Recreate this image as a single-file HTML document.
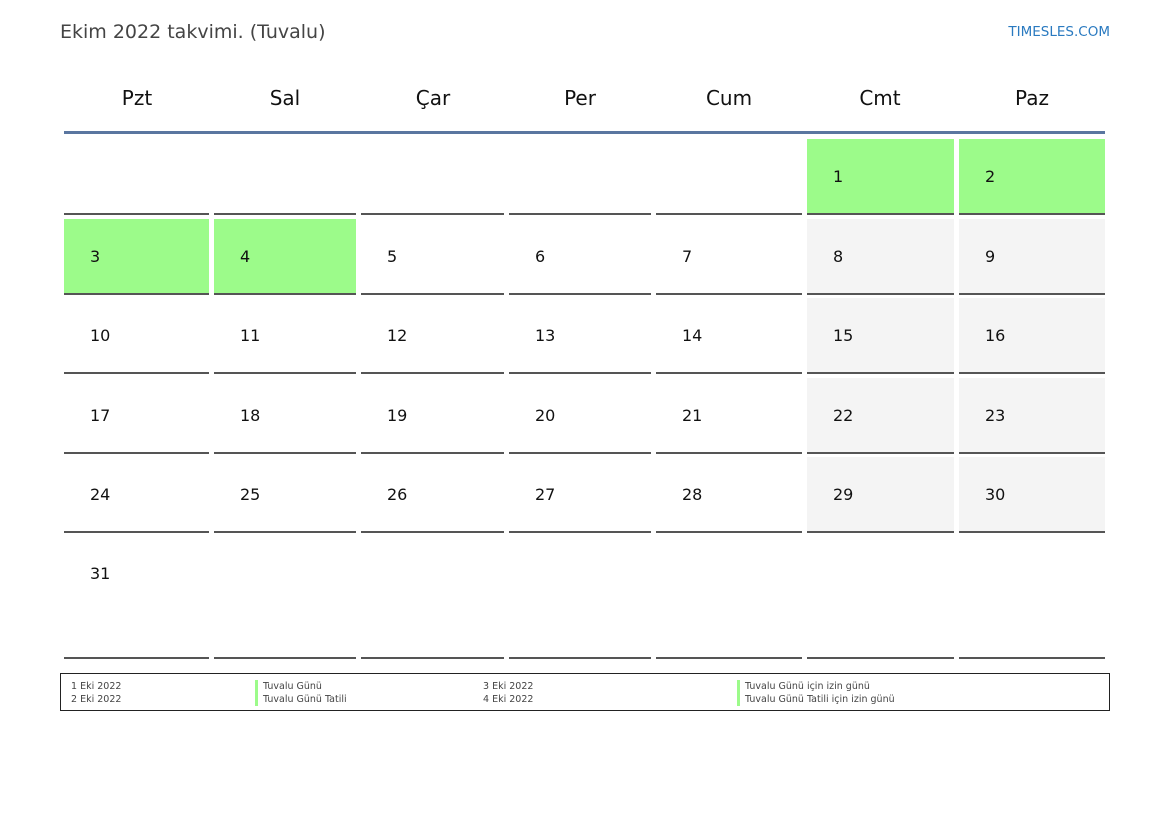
<!DOCTYPE html>
<html><head><meta charset="utf-8"><style>
body{margin:0;width:1169px;height:827px;background:#fff;position:relative;font-family:"DejaVu Sans","Liberation Sans",sans-serif;overflow:hidden}
.a{position:absolute}
.t{left:60px;top:21px;font-size:19px;color:#444}
.brand{right:59px;top:24px;font-size:13.5px;color:#2a7ac0}
.h{top:86px;font-size:20px;color:#111;text-align:center;width:146px}
.c{box-sizing:border-box;border-bottom:2px solid #555;font-size:16px;color:#111;padding-left:26px;display:flex;align-items:center}
.g{background:#9cfb8a}.w{background:#f4f4f4}
.f{font-size:9.5px;color:#444;line-height:13px}
.bar{border-left:3px solid #9cfb8a;padding-left:5px}
</style></head><body>
<div class="a t">Ekim 2022 takvimi. (Tuvalu)</div>
<div class="a brand">TIMESLES.COM</div>
<div class="a h" style="left:64px">Pzt</div>
<div class="a h" style="left:212px">Sal</div>
<div class="a h" style="left:360px">Çar</div>
<div class="a h" style="left:507px">Per</div>
<div class="a h" style="left:656px">Cum</div>
<div class="a h" style="left:807px">Cmt</div>
<div class="a h" style="left:959px">Paz</div>
<div class="a" style="left:64px;top:131px;width:1041px;height:3px;background:#5a76a0"></div>
<div id="grid"></div>
<div class="a" style="left:60px;top:673px;width:1048px;height:36px;border:1px solid #222"></div>
<div class="a f" style="left:71px;top:680px">1 Eki 2022<br>2 Eki 2022</div>
<div class="a f" style="left:255px;top:680px"><div class="bar">Tuvalu Günü</div><div class="bar">Tuvalu Günü Tatili</div></div>
<div class="a f" style="left:483px;top:680px">3 Eki 2022<br>4 Eki 2022</div>
<div class="a f" style="left:737px;top:680px"><div class="bar">Tuvalu Günü için izin günü</div><div class="bar">Tuvalu Günü Tatili için izin günü</div></div>
<script>
var L=[64,214,361,509,656,807,959],W=[145,142,143,142,146,147,146];
var T=[139,219,298,378,457,537],B=[215,295,374,454,533,659];
var h='';
for(var r=0;r<6;r++)for(var c=0;c<7;c++){
 var d=r*7+c-4;var txt=(d>=1&&d<=31)?d:'';
 var cls='c';
 if(d>=1&&d<=4)cls+=' g';else if(c>=5&&d>=1&&d<=31)cls+=' w';
 h+='<div class="a '+cls+'" style="left:'+L[c]+'px;top:'+T[r]+'px;width:'+W[c]+'px;height:'+(B[r]-T[r])+'px'+(r==5?';align-items:flex-start;padding-top:27px':'')+'">'+txt+'</div>';
}
document.getElementById('grid').innerHTML=h;
</script>
</body></html>
